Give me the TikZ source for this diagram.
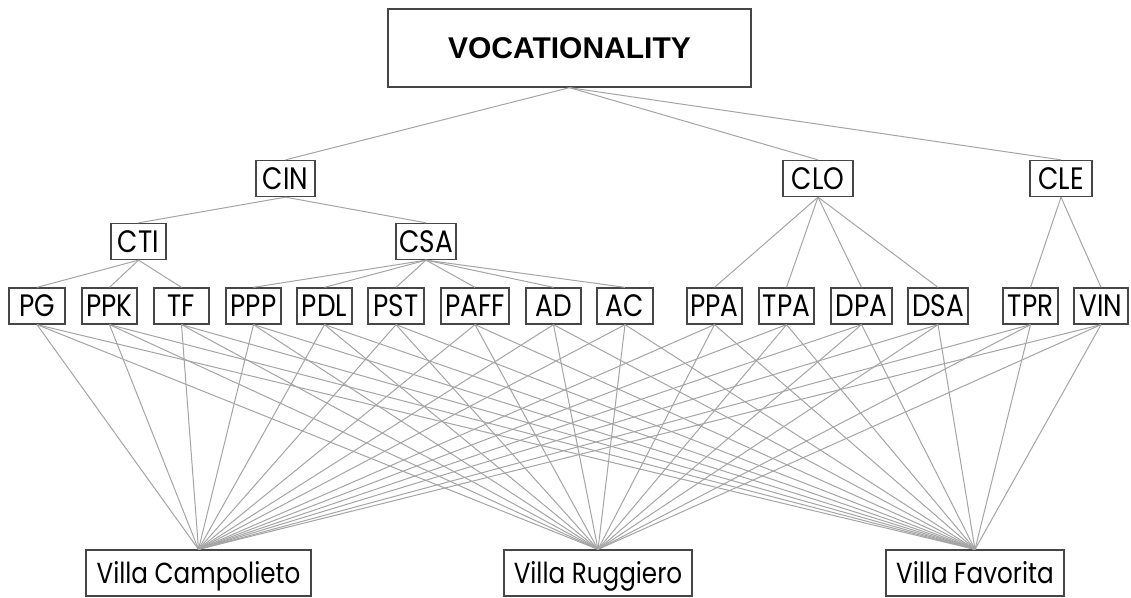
\documentclass[tikz,border=0pt]{standalone}
\usepackage{fontspec}
\setmainfont{Poppins}[FakeStretch=0.85]
\newfontfamily\arialfont{Liberation Sans}
\definecolor{boxc}{RGB}{70,70,70}
\definecolor{linec}{RGB}{165,165,165}
\begin{document}
\begin{tikzpicture}[x=1pt,y=-1pt,
  box/.style={draw=boxc, line width=1.3pt, minimum height=36pt, inner sep=0pt, text=black,
    font=\fontsize{31}{31}\selectfont},
  villa/.style={box, minimum height=46pt, font=\fontsize{29}{29}\selectfont,
    text height=20pt, text depth=0pt},
  link/.style={draw=linec, line width=1pt}]
\useasboundingbox[fill=white] (0,0) rectangle (1131,597);
% top
\node[box, minimum width=363pt, minimum height=78pt, font=\arialfont\bfseries\fontsize{30}{30}\selectfont] (voc) at (569.5,48) {VOCATIONALITY};
% level 1
\node[box, minimum width=59pt] (CIN) at (285.5,178.5) {CIN};
\node[box, minimum width=70pt] (CLO) at (818,178.5) {CLO};
\node[box, minimum width=62pt] (CLE) at (1061,178.5) {CLE};
% level 2
\node[box, minimum width=55pt] (CTI) at (138.5,241.5) {CTI};
\node[box, minimum width=60pt] (CSA) at (426,241.5) {CSA};
% level 3
\node[box, minimum width=56pt] (PG) at (37,306) {PG};
\node[box, minimum width=55pt] (PPK) at (109.5,306) {PPK};
\node[box, minimum width=55pt] (TF) at (181.5,306) {TF};
\node[box, minimum width=55pt] (PPP) at (253.5,306) {PPP};
\node[box, minimum width=55pt] (PDL) at (324.5,306) {PDL};
\node[box, minimum width=56pt] (PST) at (396,306) {PST};
\node[box, minimum width=68pt] (PAFF) at (475,306) {PAFF};
\node[box, minimum width=55pt] (AD) at (553.5,306) {AD};
\node[box, minimum width=56pt] (AC) at (625,306) {AC};
\node[box, minimum width=55pt] (PPA) at (714.5,306) {PPA};
\node[box, minimum width=55pt] (TPA) at (786.5,306) {TPA};
\node[box, minimum width=61pt] (DPA) at (861.5,306) {DPA};
\node[box, minimum width=60pt] (DSA) at (938,306) {DSA};
\node[box, minimum width=55pt] (TPR) at (1030.5,306) {TPR};
\node[box, minimum width=54pt] (VIN) at (1101,306) {VIN};
% villas
\node[villa, minimum width=225pt] (VC) at (198.5,573) {Villa Campolieto};
\node[villa, minimum width=188pt] (VR) at (598,573) {Villa Ruggiero};
\node[villa, minimum width=178pt] (VF) at (975,573) {Villa Favorita};
% hierarchy links
\foreach \c in {CIN,CLO,CLE} \draw[link] (voc.south) -- (\c.north);
\foreach \c in {CTI,CSA} \draw[link] (CIN.south) -- (\c.north);
\foreach \c in {PG,PPK,TF} \draw[link] (CTI.south) -- (\c.north);
\foreach \c in {PPP,PDL,PST,PAFF,AD,AC} \draw[link] (CSA.south) -- (\c.north);
\foreach \c in {PPA,TPA,DPA,DSA} \draw[link] (CLO.south) -- (\c.north);
\foreach \c in {TPR,VIN} \draw[link] (CLE.south) -- (\c.north);
% alternatives
\foreach \n in {PG,PPK,TF,PPP,PDL,PST,PAFF,AD,AC,PPA,TPA,DPA,DSA,TPR,VIN}
  \foreach \v in {VC,VR,VF}
    \draw[link] (\n.south) -- (\v.north);
\end{tikzpicture}
\end{document}
